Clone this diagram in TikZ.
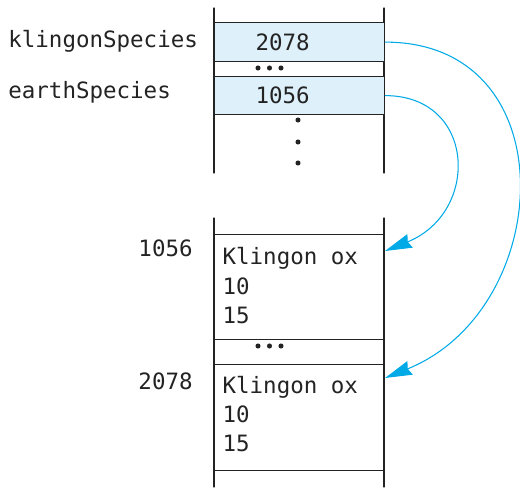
\documentclass[tikz,border=0pt]{standalone}
\usepackage{fontspec}
\setmonofont{DejaVu Sans Mono}
\usetikzlibrary{arrows.meta,positioning}
\definecolor{memline}{RGB}{35,35,35}
\definecolor{memfill}{RGB}{222,241,250}
\definecolor{refcyan}{RGB}{0,170,230}

\begin{document}
\begin{tikzpicture}[x=0.02cm,y=0.02cm,line cap=round,line join=round,
  txt/.style={font=\ttfamily\fontsize{12.8}{14.6}\selectfont,text=memline,inner sep=0pt},
  cell/.style={txt,draw=memline,line width=.7pt,fill=memfill,anchor=north west,
    minimum width=3.4cm,minimum height=0.78cm,text width=1.76cm,inner xsep=0.82cm,align=left},
  record/.style={txt,draw=memline,line width=.7pt,anchor=north west,
    minimum width=3.4cm,text width=3.08cm,inner xsep=0.16cm,align=left},
  ref/.style={refcyan,line width=.6pt,
    -{Stealth[length=0.54cm,width=0.29cm,inset=0.05cm]}}]
 \useasboundingbox (0,0) rectangle (520,-487);
 % Zmienne referencyjne na gorze.
 \draw[memline,line width=.7pt] (214,-8) -- (214,-173) (384,-8) -- (384,-173);
 \node[cell] (kbox) at (214,-22) {2078};
 \node[cell,minimum height=0.76cm] (ebox) at (214,-76) {1056};
 \node[txt,anchor=west] (klbl) at (8,-41) {klingonSpecies};
 \node[txt,anchor=west] (elbl) at (8,-92) {earthSpecies};
 \foreach \dx in {258,269.5,281}
  \fill[memline] (\dx,-68) circle(1.45pt);
 \foreach \dy in {120,142,163}
  \fill[memline] (298,-\dy) circle(1.45pt);
 % Obiekty na stercie.
 \draw[memline,line width=.7pt] (214,-218) -- (214,-487) (384,-218) -- (384,-487);
 \node[record,minimum height=2.1cm] (rec1056) at (214,-234)
  {Klingon\hspace{.6em}ox\\[2pt]10\\[2pt]15\par\vspace*{1.7pt}};
 \node[record,minimum height=2.12cm] (rec2078) at (214,-364)
  {Klingon\hspace{.6em}ox\\[2pt]10\\[2pt]15\par\vspace*{4.3pt}};
 \node[txt,anchor=east] (a1056) at (193,-248) {1056};
 \node[txt,anchor=east] (a2078) at (193,-381) {2078};
 \foreach \dx in {258,269.5,281}
  \fill[memline] (\dx,-346) circle(1.45pt);
 % Strzalki referencji.
 \coordinate (in1056) at (385,-251);
 \coordinate (in2078) at (385,-378);
 \draw[ref] (ebox.east) to[out=0,in=22,out looseness=1.5,in looseness=1.7] (in1056);
 \draw[ref] (kbox.east) to[out=0,in=22,looseness=1.4] (in2078);
\end{tikzpicture}
\end{document}
